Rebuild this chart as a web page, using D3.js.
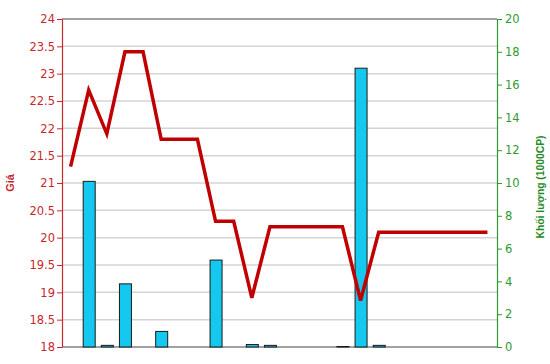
<!DOCTYPE html>
<html>
<head>
<meta charset="utf-8">
<script src="https://cdn.jsdelivr.net/npm/d3@7"></script>
<style>
  body { margin: 0; background: #fff; }
  svg text { font-family: Arial, "Liberation Sans", sans-serif; }
  svg .tick text { font-family: "DejaVu Sans", Verdana, sans-serif; }
</style>
</head>
<body>
<svg id="chart" width="550" height="364"></svg>
<script>
// sessions (index only, no labels shown on x)
const sessions = d3.range(24);
const price = [21.3, 22.7, 21.9, 23.4, 23.4, 21.8, 21.8, 21.8, 20.3, 20.3, 18.9, 20.2,
               20.2, 20.2, 20.2, 20.2, 18.85, 20.1, 20.1, 20.1, 20.1, 20.1, 20.1, 20.1];
const volume = [0, 10.1, 0.1, 3.85, 0, 0.95, 0, 0, 5.3, 0, 0.15, 0.1,
                0, 0, 0, 0.03, 17, 0.1, 0, 0, 0, 0, 0, 0];
const priceTicks = d3.range(18, 24.01, 0.5);
const volTicks = d3.range(0, 20.01, 2);

const margin = { top: 19, right: 53, bottom: 17, left: 62 };
const W = 550, H = 364;
const w = W - margin.left - margin.right;
const h = H - margin.top - margin.bottom;

const RED = "#c8282d", GREEN = "#2f9a2f";

const svg = d3.select("#chart");
const g = svg.append("g").attr("transform", `translate(${margin.left},${margin.top})`);

const x = d3.scaleBand().domain(sessions).range([0, w]);
const yP = d3.scaleLinear().domain([18, 24]).range([h, 0]);
const yV = d3.scaleLinear().domain([0, 20]).range([h, 0]);

// grid
g.append("g").selectAll("line").data(priceTicks.slice(1, -1)).join("line")
  .attr("x1", 0).attr("x2", w)
  .attr("y1", d => yP(d)).attr("y2", d => yP(d))
  .attr("stroke", "#d4d4d4").attr("stroke-width", 1.5);

// frame top / bottom
g.append("line").attr("x1", 0).attr("x2", w).attr("y1", 0).attr("y2", 0)
  .attr("stroke", "#444").attr("stroke-width", 1.2);
g.append("line").attr("x1", 0).attr("x2", w).attr("y1", h).attr("y2", h)
  .attr("stroke", "#444").attr("stroke-width", 1.2);

// volume bars
const bw = 12;
g.append("g").selectAll("rect").data(sessions.filter(i => volume[i] > 0)).join("rect")
  .attr("x", i => x(i) + x.bandwidth() / 2 - bw / 2)
  .attr("width", bw)
  .attr("y", i => yV(volume[i]))
  .attr("height", i => h - yV(volume[i]))
  .attr("fill", "#14c8f0")
  .attr("stroke", "#1a1a1a").attr("stroke-width", 1);

// price line
const line = d3.line()
  .x((d, i) => x(i) + x.bandwidth() / 2 - 0.5)
  .y(d => yP(d));
g.append("path").datum(price)
  .attr("d", line)
  .attr("fill", "none")
  .attr("stroke", "#c00000")
  .attr("stroke-width", 3.5)
  .attr("stroke-linejoin", "miter");

// left axis
const axL = g.append("g")
  .call(d3.axisLeft(yP).tickValues(priceTicks).tickSize(5).tickSizeOuter(0)
    .tickFormat(d => d3.format("")(+d.toFixed(1))));
axL.select(".domain").attr("stroke", RED).attr("stroke-width", 1.2);
axL.selectAll(".tick line").attr("stroke", RED);
axL.selectAll(".tick text").attr("fill", RED).attr("font-size", 11.5).attr("x", -7);

// right axis
const axR = g.append("g").attr("transform", `translate(${w},0)`)
  .call(d3.axisRight(yV).tickValues(volTicks).tickSize(5).tickSizeOuter(0));
axR.select(".domain").attr("stroke", GREEN).attr("stroke-width", 1.2);
axR.selectAll(".tick line").attr("stroke", GREEN);
axR.selectAll(".tick text").attr("fill", GREEN).attr("font-size", 11.5).attr("x", 8);

// axis titles
svg.append("text")
  .attr("transform", `translate(14,${margin.top + h / 2}) rotate(-90)`)
  .attr("text-anchor", "middle")
  .attr("fill", RED).attr("font-size", 11).attr("font-weight", "bold")
  .text("Giá");
svg.append("text")
  .attr("transform", `translate(544,187) rotate(-90)`)
  .attr("text-anchor", "middle")
  .attr("fill", "#1f8a1f").attr("font-size", 11).attr("font-weight", "bold")
  .attr("textLength", 103).attr("lengthAdjust", "spacingAndGlyphs")
  .text("Khối lượng (1000CP)");
</script>
</body>
</html>
